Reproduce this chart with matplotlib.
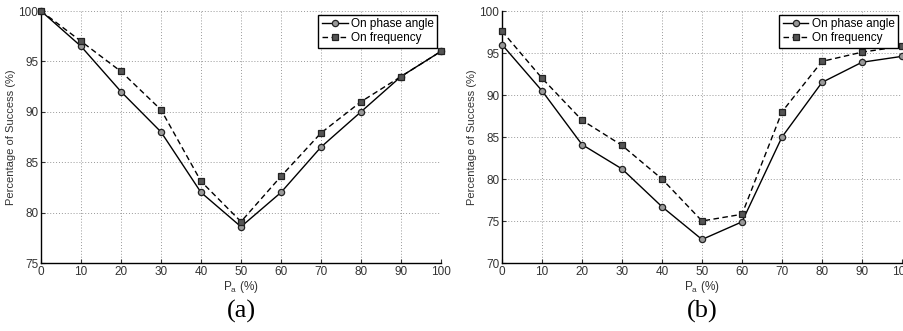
import matplotlib.pyplot as plt
import numpy as np

plt.rcParams['font.family'] = ['Liberation Sans', 'DejaVu Sans']

pa = [0, 10, 20, 30, 40, 50, 60, 70, 80, 90, 100]

# panel (a)
phase_a = [100, 96.5, 92, 88, 82, 78.6, 82, 86.5, 90, 93.5, 96]
freq_a = [100, 97, 94, 90.2, 83.1, 79.1, 83.6, 87.9, 91, 93.5, 96]

# panel (b)
phase_b = [96, 90.5, 84.1, 81.2, 76.7, 72.8, 74.9, 85, 91.5, 93.9, 94.6]
freq_b = [97.6, 92, 87, 84, 80, 75, 75.8, 88, 94, 95.1, 95.8]

fig = plt.figure(figsize=(9.04, 3.31), dpi=100)
ax1 = fig.add_axes([41/904, 68/331, 400/904, 252/331])
ax2 = fig.add_axes([502/904, 68/331, 400/904, 252/331])


def panel(ax, phase, freq, ylo, tag):
    ax.plot(pa, phase, '-', color='black', lw=1.0, marker='o', ms=4.5,
            mfc='#999999', mec='#222222', mew=0.9, label='On phase angle', clip_on=False, zorder=3)
    ax.plot(pa, freq, '--', dashes=(4, 2.5), color='black', lw=1.0, marker='s', ms=4,
            mfc='#555555', mec='#222222', mew=0.9, label='On frequency', clip_on=False, zorder=3)
    ax.set_xlim(0, 100)
    ax.set_ylim(ylo, 100)
    ax.set_xticks(pa)
    ax.set_yticks(np.arange(ylo, 101, 5))
    ax.grid(True, linestyle=(0, (1, 2)), color='#999999', lw=0.7)
    for s in ['top', 'right']:
        ax.spines[s].set_visible(False)
    for s in ['left', 'bottom']:
        ax.spines[s].set_linewidth(1.0)
    ax.tick_params(direction='in', length=3, labelsize=8.5, colors='#333333', pad=2)
    ax.set_xlabel('P$_\\mathregular{a}$ (%)', fontsize=8.5, color='#333333', labelpad=1)
    ax.set_ylabel('Percentage of Success (%)', fontsize=8, color='#333333', labelpad=2)
    leg = ax.legend(loc='upper right', fontsize=8.5, fancybox=False, framealpha=1,
                    edgecolor='black', handlelength=2.2, handletextpad=0.3,
                    borderpad=0.3, labelspacing=0.2, borderaxespad=0.3)
    leg.get_frame().set_linewidth(1.0)
    x0 = ax.get_position().x0 + ax.get_position().width / 2
    fig.text(x0, 0.025, tag, ha='center', va='bottom', fontsize=19,
             family='Liberation Serif')


panel(ax1, phase_a, freq_a, 75, '(a)')
panel(ax2, phase_b, freq_b, 70, '(b)')

fig.savefig('out.png', dpi=100)
